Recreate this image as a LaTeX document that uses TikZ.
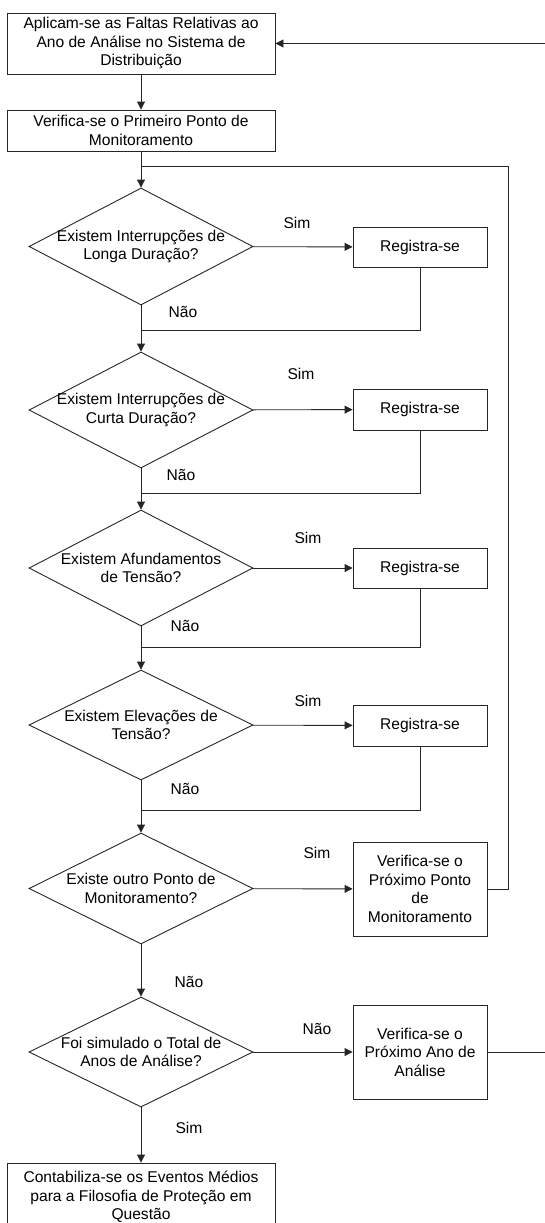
\documentclass[tikz,border=0pt]{standalone}
\usepackage{fontspec}
\setmainfont{Liberation Sans}
\usetikzlibrary{shapes.geometric,arrows.meta}

\begin{document}
\begin{tikzpicture}[x=1pt,y=-1pt,
	every node/.style={font=\fontsize{15.6}{18.5}\selectfont},
	procbox/.style={draw=black!85,line width=0.9pt,rectangle,align=center,inner sep=0pt},
	sidebox/.style={procbox,minimum width=134pt,minimum height=40pt},
	decision/.style={draw=black!85,line width=0.9pt,diamond,aspect=2,align=center,
		inner sep=-12pt,minimum width=224pt,minimum height=116pt},
	answer/.style={inner sep=0pt},
	conn/.style={draw=black!85,line width=0.9pt},
	flow/.style={conn,-{Triangle[length=8pt,width=8pt]}}]
	
	\useasboundingbox (0,0) rectangle (544,1223);
	
	% main column
	\node[procbox,minimum width=268pt,minimum height=61pt] (faltas) at (141,43.5)
		{Aplicam-se as Faltas Relativas ao\\Ano de Análise no Sistema de\\Distribuição};
	\node[procbox,minimum width=268pt,minimum height=41pt] (primeiro) at (141,130.5)
		{Verifica-se o Primeiro Ponto de\\Monitoramento};
	\node[decision,minimum height=117pt] (longa) at (141,246.5)
		{Existem Interrupções de\\Longa Duração?};
	\node[decision] (curta) at (141,410)
		{Existem Interrupções de\\Curta Duração?};
	\node[decision] (afund) at (141,568)
		{Existem Afundamentos\\de Tensão?};
	\node[decision,minimum height=110pt] (elev) at (141,725)
		{Existem Elevações de\\Tensão?};
	\node[decision,minimum height=111pt] (outro) at (141,888.5)
		{Existe outro Ponto de\\Monitoramento?};
	\node[decision,minimum height=110pt] (total) at (141,1052)
		{Foi simulado o Total de\\Anos de Análise?};
	\node[procbox,minimum width=268pt,minimum height=68pt] (contab) at (141,1197)
		{Contabiliza-se os Eventos Médios\\para a Filosofia de Proteção em\\Questão};
	
	% right column
	\node[sidebox] (reg1) at (420,247) {Registra-se};
	\node[sidebox,minimum height=41pt] (reg2) at (420,409.5) {Registra-se};
	\node[sidebox] (reg3) at (420,568) {Registra-se};
	\node[sidebox,minimum height=41pt] (reg4) at (420,725.5) {Registra-se};
	\node[sidebox,minimum height=94pt] (proxponto) at (420,889)
		{Verifica-se o\\Próximo Ponto\\de\\Monitoramento};
	\node[sidebox,minimum height=94pt] (proxano) at (420,1052)
		{Verifica-se o\\Próximo Ano de\\Análise};
	
	% answers
	\node[answer] (sim1) at (297,223) {Sim};
	\node[answer] (nao1) at (183,312) {Não};
	\node[answer] (sim2) at (301,374) {Sim};
	\node[answer] (nao2) at (181,475) {Não};
	\node[answer] (sim3) at (308,538) {Sim};
	\node[answer] (nao3) at (185,626) {Não};
	\node[answer] (sim4) at (308,701) {Sim};
	\node[answer] (nao4) at (185,789) {Não};
	\node[answer] (sim5) at (317,853) {Sim};
	\node[answer] (nao5) at (189,982) {Não};
	\node[answer] (nao6) at (317,1029) {Não};
	\node[answer] (sim6) at (189,1128) {Sim};
	
	\coordinate (ret1) at (141,330);
	\coordinate (ret2) at (141,493);
	\coordinate (ret3) at (141,647);
	\coordinate (ret4) at (141,810);
	\coordinate (loopA) at (141,166);
	\coordinate (loopB) at (508,166);
	\coordinate (voltaAno) at (546,500);
	
	\draw[flow] (faltas) -- (primeiro);
	\draw[flow] (primeiro) -- (longa);
	\draw[flow] (longa) -- (curta);
	\draw[flow] (curta) -- (afund);
	\draw[flow] (afund) -- (elev);
	\draw[flow] (elev) -- (outro);
	\draw[flow] (outro) -- (total);
	\draw[flow] (total) -- (contab);
	
	\draw[flow] (longa) -- (reg1);
	\draw[flow] (curta) -- (reg2);
	\draw[flow] (afund) -- (reg3);
	\draw[flow] (elev) -- (reg4);
	\draw[flow] (outro) -- (proxponto);
	\draw[flow] (total) -- (proxano);
	
	\draw[conn] (reg1.south) |- (ret1);
	\draw[conn] (reg2.south) |- (ret2);
	\draw[conn] (reg3.south) |- (ret3);
	\draw[conn] (reg4.south) |- (ret4);
	
	% loops back
	\draw[conn] (proxponto.east) -| (loopB) -- (loopA);
	\draw[flow] (proxano.east) -| (voltaAno) |- (faltas.east);
	
\end{tikzpicture}
\end{document}
